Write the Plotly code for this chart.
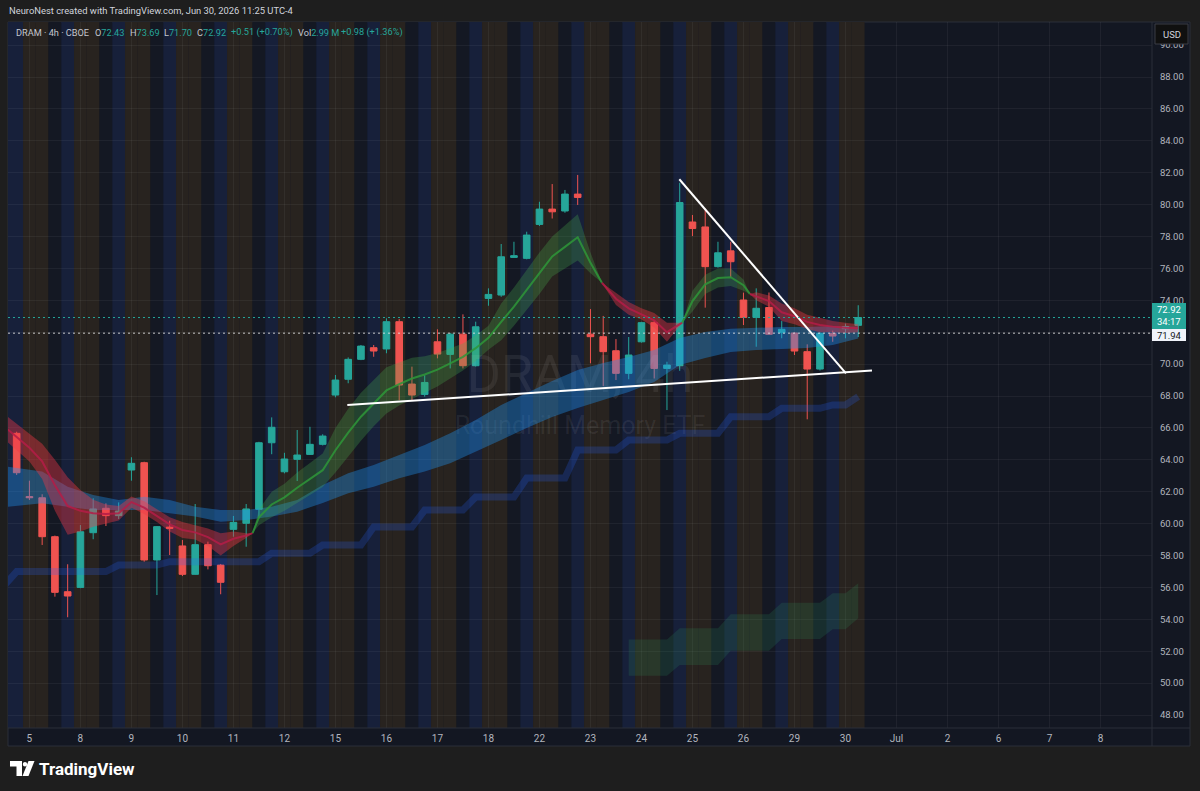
import plotly.graph_objects as go

W, H = 1200, 791
PL, PR, PT, PB = 8, 1152, 22, 728   # plot area edges in px
AXR, AXB = 1190, 746                # outer edges of price / time axis

def fx(px):
    return px / W

def fy(py):
    return 1 - py / H

# ---------------- data ----------------
bar_idx = list(range(67))
opens = [65.66, 61.70, 61.62, 59.18, 55.73, 56.00, 59.43, 60.96, 60.50, 63.36,
         63.82, 57.72, 59.78, 58.60, 56.82, 58.68, 57.40, 59.64, 60.02, 60.90,
         65.07, 63.25, 64.03, 64.34, 64.97, 68.06, 69.05, 70.30, 71.03, 70.95,
         72.66, 68.75, 68.10, 71.40, 70.61, 71.88, 69.90, 74.12, 74.33, 76.69,
         76.63, 78.76, 79.72, 79.60, 80.66, 71.88, 71.72, 70.84, 69.42, 71.40,
         72.60, 69.73, 69.90, 78.91, 78.60, 76.11, 77.10, 74.02, 72.93, 73.55,
         71.97, 71.95, 70.78, 69.69, 71.93, 72.22, 72.43]
highs = [65.76, 62.69, 61.84, 59.25, 57.45, 59.91, 61.59, 61.27, 61.33, 64.16,
         63.88, 59.85, 60.18, 58.97, 61.23, 58.87, 57.47, 60.48, 61.23, 65.13,
         66.66, 64.44, 65.87, 66.07, 65.60, 69.32, 70.42, 71.20, 71.20, 72.87,
         72.83, 69.84, 69.30, 72.18, 71.95, 73.12, 72.66, 74.75, 77.53, 77.67,
         78.30, 80.18, 81.29, 80.92, 81.86, 73.45, 73.02, 71.57, 71.70, 72.65,
         72.72, 70.15, 81.37, 79.35, 79.76, 77.67, 77.67, 74.48, 74.75, 74.49,
         72.70, 72.00, 71.24, 72.00, 72.10, 72.54, 73.69]
lows = [63.05, 61.48, 58.66, 55.42, 54.13, 55.95, 59.02, 59.85, 60.29, 62.69,
        57.61, 55.52, 58.03, 56.71, 56.80, 57.13, 55.57, 59.18, 58.55, 60.33,
        64.35, 63.15, 62.67, 64.30, 64.90, 67.92, 68.80, 70.25, 70.46, 70.68,
        67.75, 67.75, 67.96, 70.36, 69.73, 69.73, 69.85, 73.66, 74.22, 76.69,
        76.57, 78.66, 79.13, 79.49, 79.98, 70.05, 68.63, 69.00, 69.05, 71.35,
        69.10, 67.12, 69.58, 78.03, 73.54, 76.05, 75.43, 72.45, 71.09, 71.85,
        71.62, 70.57, 66.54, 69.60, 71.40, 71.62, 71.70]
closes = [63.19, 61.62, 59.18, 55.69, 55.46, 59.49, 60.92, 60.50, 60.79, 63.78,
          57.72, 59.81, 59.70, 56.82, 58.68, 57.36, 56.32, 60.08, 60.92, 65.07,
          66.04, 64.05, 64.30, 64.97, 65.49, 69.00, 70.30, 71.13, 70.82, 72.66,
          68.69, 68.06, 68.85, 70.63, 71.88, 69.90, 72.34, 74.37, 76.73, 76.80,
          78.09, 79.72, 79.55, 80.66, 80.45, 71.72, 70.78, 69.42, 70.57, 72.60,
          69.73, 69.94, 80.13, 78.50, 76.11, 76.98, 76.42, 72.93, 73.50, 71.87,
          72.18, 70.82, 69.69, 71.93, 71.76, 72.36, 72.92]

day_tick_idx = [1, 5, 9, 13, 17, 21, 25, 29, 33, 37, 41, 45, 49, 53, 57, 61, 65,
                69, 73, 77, 81, 85]
day_tick_lbl = ["5", "8", "9", "10", "11", "12", "15", "16", "17", "18", "22",
                "23", "24", "25", "26", "29", "30", "Jul", "2", "6", "7", "8"]
price_ticks = list(range(48, 92, 2))

# short EMA ribbon (upper edge, lower edge); crossover points have hi == lo
rib_x = [-0.7, 1, 2, 3, 4, 5, 6, 7, 8, 9, 10, 11, 12, 13, 14, 15, 16, 17, 18,
         18.5, 19, 20, 21, 22, 23, 24, 25, 26, 27, 28, 29, 30, 31, 32, 33, 34,
         35, 36, 37, 38, 39, 40, 41, 42, 43, 44, 45, 45.9, 47, 48, 49, 50, 51,
         52.2, 53, 54, 55, 56, 57, 57.5, 58, 59, 60, 61, 62, 63, 64, 65, 66]
rib_hi = [66.7, 65.6, 65.0, 64.0, 62.9, 62.1, 61.5, 61.2, 61.1, 61.7, 61.4, 60.9,
          60.4, 60.1, 59.9, 59.7, 59.4, 59.5, 59.4, 59.4, 60.9, 62.0, 62.5, 63.2,
          63.8, 64.4, 66.0, 67.2, 68.2, 69.0, 69.8, 70.1, 70.4, 70.5, 70.7, 71.0,
          71.3, 71.8, 72.4, 73.8, 74.8, 75.9, 77.0, 78.0, 78.7, 79.4, 77.0, 75.1,
          74.5, 73.9, 73.5, 73.2, 72.6, 72.6, 74.6, 75.6, 76.0, 76.0, 75.3, 74.4,
          74.5, 74.3, 73.8, 73.5, 73.1, 72.9, 72.7, 72.6, 72.5]
rib_lo = [65.1, 63.9, 62.8, 60.8, 59.3, 59.5, 59.8, 60.0, 60.2, 61.0, 60.6, 60.1,
          59.5, 59.1, 59.0, 58.6, 58.0, 58.6, 59.1, 59.4, 59.9, 60.4, 60.8, 61.3,
          61.8, 62.3, 63.2, 64.2, 65.2, 66.1, 66.9, 67.4, 67.8, 68.2, 68.6, 69.1,
          69.6, 70.2, 70.9, 71.5, 72.4, 73.4, 74.4, 75.5, 76.0, 76.5, 75.7, 75.1,
          73.7, 73.1, 72.8, 72.3, 71.4, 72.6, 73.3, 74.4, 74.8, 74.9, 74.6, 74.4,
          74.0, 73.6, 72.7, 72.5, 72.2, 72.0, 72.0, 71.95, 72.0]
rib_cross = [18.5, 45.9, 52.2, 57.5]

# long EMA ribbon (blue)
blu_x = [-0.7, 2, 4, 6, 8, 10, 12, 14, 16, 18, 20, 22, 24, 26, 28, 30, 32, 34,
         36, 38, 40, 42, 44, 46, 48, 50, 52, 54, 56, 58, 60, 62, 64, 66]
blu_hi = [63.57, 63.26, 62.31, 61.79, 61.48, 61.69, 61.48, 61.06, 60.85, 60.85,
          61.06, 61.48, 62.42, 63.15, 63.67, 64.30, 64.93, 65.66, 66.50, 67.44,
          68.19, 68.94, 69.63, 70.07, 70.45, 70.89, 71.64, 72.02, 72.21, 72.27,
          72.33, 72.33, 72.39, 72.35]
blu_lo = [61.06, 61.27, 61.06, 60.85, 60.85, 60.85, 60.65, 60.44, 60.12, 60.23,
          60.44, 60.75, 61.29, 61.90, 62.31, 62.84, 63.26, 63.78, 64.51, 65.24,
          66.00, 66.69, 67.25, 67.75, 68.25, 68.88, 69.94, 70.38, 70.76, 70.89,
          70.95, 71.01, 71.20, 71.60]

# daily step line (per bar)
step_x = [-1] + bar_idx
step_v = [56.10,
          56.99, 56.99, 56.99, 56.99, 56.99, 56.99, 56.99, 56.99,
          57.40, 57.40, 57.40, 57.40, 57.61, 57.61, 57.61, 57.61,
          57.61, 57.61, 57.61, 57.61, 58.14, 58.14, 58.14, 58.14,
          58.66, 58.66, 58.66, 58.66, 59.79, 59.79, 59.79, 59.79,
          60.85, 60.85, 60.85, 60.85, 61.67, 61.67, 61.67, 61.67,
          62.86, 62.86, 62.86, 62.86, 64.61, 64.61, 64.61, 64.61,
          65.24, 65.24, 65.24, 65.24, 65.66, 65.66, 65.66, 65.66,
          66.70, 66.70, 66.70, 66.70, 67.23, 67.23, 67.23, 67.23,
          67.44, 67.44, 67.96]

# lower green band (per bar, from Jun 23 last bar)
gb_x = list(range(48, 67))
gb_hi = [52.74, 52.74, 52.74, 52.74, 53.44, 53.44, 53.44, 53.44, 54.31, 54.31,
         54.31, 54.31, 55.04, 55.04, 55.04, 55.04, 55.63, 55.63, 56.26]
gb_lo = [50.46, 50.46, 50.46, 50.46, 51.13, 51.13, 51.13, 51.13, 52.03, 52.03,
         52.03, 52.03, 52.76, 52.76, 52.76, 52.76, 53.37, 53.37, 54.06]

# drawn trendlines
tl_support_x = [25.93, 67.08]
tl_support_y = [67.44, 69.60]
tl_down_x = [51.97, 65.04]
tl_down_y = [81.59, 69.42]

last_price = 72.92
other_price = 71.94

x_range = [-0.68, 89.04]
y_range = [47.185, 91.45]

# ---------------- style ----------------
BG = "#131722"
OUTER = "#1e1e1e"
UP = "#26a69a"
DN = "#ef5350"
TXT = "#b2b5be"
FONT = "Roboto"
session_colors = ["#17203a", "#28231f", "#28231f", "#141823"]

fig = go.Figure()

# watermark (first -> bottom-most)
fig.add_trace(go.Scatter(
    x=[(x_range[0] + x_range[1]) / 2], y=[y_range[0] + (y_range[1] - y_range[0]) * 0.495],
    mode="text", text=["DRAM, 4h"],
    textfont=dict(size=52, color="rgba(255,255,255,0.07)", family=FONT),
    hoverinfo="skip"))
fig.add_trace(go.Scatter(
    x=[(x_range[0] + x_range[1]) / 2], y=[y_range[0] + (y_range[1] - y_range[0]) * 0.425],
    mode="text", text=["Roundhill Memory ETF"],
    textfont=dict(size=25, color="rgba(255,255,255,0.07)", family=FONT),
    hoverinfo="skip"))

# daily step line
fig.add_trace(go.Scatter(x=step_x, y=step_v, mode="lines",
                         line=dict(color="rgba(41,98,255,0.22)", width=7),
                         hoverinfo="skip"))

# lower green band
fig.add_trace(go.Scatter(x=gb_x + gb_x[::-1], y=gb_hi + gb_lo[::-1], mode="lines",
                         fill="toself", fillcolor="rgba(50,160,100,0.17)",
                         line=dict(width=0, color="rgba(0,0,0,0)"), hoverinfo="skip"))

# blue ribbon
fig.add_trace(go.Scatter(x=blu_x + blu_x[::-1], y=blu_hi + blu_lo[::-1], mode="lines",
                         fill="toself", fillcolor="rgba(33,150,243,0.37)",
                         line=dict(width=0, color="rgba(0,0,0,0)"), hoverinfo="skip"))

# short ribbon split into coloured segments
segs, cur = [], []
for i, xv in enumerate(rib_x):
    cur.append(i)
    if xv in rib_cross:
        segs.append(cur)
        cur = [i]
segs.append(cur)
for k, seg in enumerate(segs):
    down = (k % 2 == 0)
    fillc = "rgba(242,54,69,0.40)" if down else "rgba(76,175,80,0.28)"
    linec = "rgba(180,28,70,0.85)" if down else "rgba(46,150,56,0.85)"
    xs = [rib_x[i] for i in seg]
    his = [rib_hi[i] for i in seg]
    los = [rib_lo[i] for i in seg]
    fig.add_trace(go.Scatter(x=xs + xs[::-1], y=his + los[::-1], mode="lines",
                             fill="toself", fillcolor=fillc,
                             line=dict(width=0, color="rgba(0,0,0,0)"), hoverinfo="skip"))
    fig.add_trace(go.Scatter(x=xs, y=[(a + b) / 2 for a, b in zip(his, los)], mode="lines",
                             line=dict(color=linec, width=2), hoverinfo="skip"))

# candles
fig.add_trace(go.Candlestick(
    x=bar_idx, open=opens, high=highs, low=lows, close=closes,
    increasing=dict(line=dict(color=UP, width=1), fillcolor=UP),
    decreasing=dict(line=dict(color=DN, width=1), fillcolor=DN),
    whiskerwidth=0, hoverinfo="skip"))

# trendlines
for tx, ty in [(tl_support_x, tl_support_y), (tl_down_x, tl_down_y)]:
    fig.add_trace(go.Scatter(x=tx, y=ty, mode="lines",
                             line=dict(color="#ffffff", width=2), hoverinfo="skip"))

# price lines
fig.add_trace(go.Scatter(x=x_range, y=[last_price, last_price], mode="lines",
                         line=dict(color=UP, width=1, dash="2px,3px"), hoverinfo="skip"))
fig.add_trace(go.Scatter(x=x_range, y=[other_price, other_price], mode="lines",
                         line=dict(color="rgba(230,230,230,0.85)", width=1, dash="2px,3px"),
                         hoverinfo="skip"))

# ---------------- shapes ----------------
shapes = []
shapes.append(dict(type="rect", xref="paper", yref="paper", layer="below",
                   x0=fx(PL), x1=fx(AXR), y0=fy(AXB), y1=fy(PT),
                   fillcolor=BG, line=dict(color="#2a2e39", width=1)))
for i in bar_idx:
    shapes.append(dict(type="rect", xref="x", yref="paper", layer="below",
                       x0=(x_range[0] if i == 0 else i - 0.5), x1=i + 0.5,
                       y0=fy(PB), y1=fy(PT),
                       fillcolor=session_colors[i % 4], line=dict(width=0)))
shapes.append(dict(type="line", xref="paper", yref="paper", layer="above",
                   x0=fx(PR), x1=fx(PR), y0=fy(AXB), y1=fy(PT),
                   line=dict(color="#2a2e39", width=1)))
shapes.append(dict(type="line", xref="paper", yref="paper", layer="above",
                   x0=fx(PL), x1=fx(AXR), y0=fy(PB), y1=fy(PB),
                   line=dict(color="#2a2e39", width=1)))
shapes.append(dict(type="rect", xref="paper", yref="paper", layer="above",
                   x0=fx(1152), x1=fx(1186), y0=fy(329), y1=fy(303),
                   fillcolor=UP, line=dict(width=0)))
shapes.append(dict(type="rect", xref="paper", yref="paper", layer="above",
                   x0=fx(1152), x1=fx(1186), y0=fy(341), y1=fy(329),
                   fillcolor="#f0f3fa", line=dict(width=0)))
shapes.append(dict(type="rect", xref="paper", yref="paper", layer="above",
                   x0=fx(1155), x1=fx(1188), y0=fy(44), y1=fy(24),
                   fillcolor="#101010", line=dict(color="#3a3d45", width=1)))

def path(pts):
    return "M " + " L ".join(f"{fx(a):.5f},{fy(b):.5f}" for a, b in pts) + " Z"

shapes.append(dict(type="path", xref="paper", yref="paper", layer="above",
                   path=path([(10, 761), (22, 761), (22, 776), (16.5, 776), (16.5, 766.5), (10, 766.5)]),
                   fillcolor="#ffffff", line=dict(width=0)))
shapes.append(dict(type="circle", xref="paper", yref="paper", layer="above",
                   x0=fx(22.8), x1=fx(27.2), y0=fy(766.5), y1=fy(762.1),
                   fillcolor="#ffffff", line=dict(width=0)))
shapes.append(dict(type="path", xref="paper", yref="paper", layer="above",
                   path=path([(28.5, 761), (34.5, 761), (28.5, 776), (22.5, 776)]),
                   fillcolor="#ffffff", line=dict(width=0)))

# ---------------- annotations ----------------
ann = []
ann.append(dict(x=fx(7), y=fy(11), xref="paper", yref="paper", xanchor="left", yanchor="middle",
                text="NeuroNest created with TradingView.com, Jun 30, 2026 11:25 UTC-4",
                showarrow=False, font=dict(size=9.4, color="#d1d4dc", family=FONT)))

def teal(s):
    return f'<span style="color:{UP}">{s}</span>'

legend_items = [
    (14, "DRAM · 4h · CBOE"),
    (92.7, "O" + teal("72.43")),
    (127.7, "H" + teal("73.69")),
    (161.7, "L" + teal("71.70")),
    (195, "C" + teal("72.92")),
    (229, teal("+0.51 (+0.70%)")),
    (295.7, "Vol" + teal("2.99 M")),
    (339, teal("+0.98 (+1.36%)")),
]
for px, t in legend_items:
    ann.append(dict(x=fx(px), y=fy(32), xref="paper", yref="paper", xanchor="left",
                    yanchor="middle", text=t, showarrow=False,
                    font=dict(size=9.2, color="#c3c6ce", family=FONT)))

ann.append(dict(x=fx(1169), y=fy(309.5), xref="paper", yref="paper", xanchor="center",
                yanchor="middle", text=f"{last_price:.2f}", showarrow=False,
                font=dict(size=9.5, color="#ffffff", family=FONT)))
ann.append(dict(x=fx(1169), y=fy(321.5), xref="paper", yref="paper", xanchor="center",
                yanchor="middle", text="34:17", showarrow=False,
                font=dict(size=9.5, color="#ffffff", family=FONT)))
ann.append(dict(x=fx(1169), y=fy(335.2), xref="paper", yref="paper", xanchor="center",
                yanchor="middle", text=f"{other_price:.2f}", showarrow=False,
                font=dict(size=9.5, color="#131722", family=FONT)))
ann.append(dict(x=fx(1171.5), y=fy(34), xref="paper", yref="paper", xanchor="center",
                yanchor="middle", text="USD", showarrow=False,
                font=dict(size=9.5, color="#d1d4dc", family=FONT)))
ann.append(dict(x=fx(37), y=fy(768.5), xref="paper", yref="paper", xanchor="left",
                yanchor="middle", text="<b>TradingView</b>", showarrow=False,
                font=dict(size=17, color="#ffffff", family=FONT)))

# the 72.00 label sits under the price boxes in the reference, so it stays blank
price_lbl = ["" if v == 72 else f"{v:.2f}" for v in price_ticks]

fig.update_layout(
    width=W, height=H, autosize=False,
    margin=dict(l=0, r=0, t=0, b=0),
    paper_bgcolor=OUTER, plot_bgcolor=BG,
    showlegend=False, hovermode=False,
    shapes=shapes, annotations=ann,
    boxgap=0.26,
    xaxis=dict(domain=[fx(PL), fx(PR)], range=x_range, rangeslider=dict(visible=False),
               tickmode="array", tickvals=day_tick_idx, ticktext=day_tick_lbl,
               showgrid=True, gridcolor="rgba(255,255,255,0.05)", gridwidth=1,
               zeroline=False, showline=False, ticks="outside", ticklen=1,
               tickcolor="rgba(0,0,0,0)",
               tickfont=dict(size=10, color=TXT, family=FONT), fixedrange=True),
    yaxis=dict(domain=[fy(PB), fy(PT)], range=y_range, side="right",
               tickmode="array", tickvals=price_ticks, ticktext=price_lbl,
               showgrid=True, gridcolor="rgba(255,255,255,0.05)", gridwidth=1,
               zeroline=False, showline=False, ticks="outside", ticklen=5,
               tickcolor="rgba(0,0,0,0)",
               tickfont=dict(size=9.5, color=TXT, family=FONT), fixedrange=True),
)

fig.write_html("out.html", config={"displayModeBar": False})
